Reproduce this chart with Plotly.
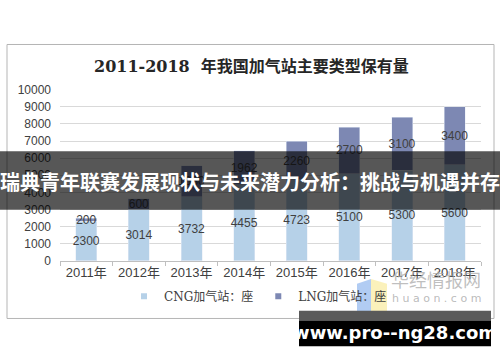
import plotly.graph_objects as go

years = ["2011年", "2012年", "2013年", "2014年", "2015年", "2016年", "2017年", "2018年"]
cng = [2300, 3014, 3732, 4455, 4723, 5100, 5300, 5600]
lng = [200, 600, 1830, 1962, 2260, 2700, 3100, 3400]
y_ticks = [0, 1000, 2000, 3000, 4000, 5000, 6000, 7000, 8000, 9000, 10000]
series_names = ["CNG加气站：座", "LNG加气站：座"]
series_colors = ["#b6d1e8", "#7d88b3"]

W, H = 500, 362
def px(x): return x / W
def py(y): return (H - y) / H

fig = go.Figure()
for vals, name, color in zip([cng, lng], series_names, series_colors):
    fig.add_trace(go.Bar(
        x=years, y=vals, name=name, marker_color=color, showlegend=False,
        text=[str(v) for v in vals], textposition="inside", insidetextanchor="middle",
        textangle=0, constraintext="none",
        textfont=dict(size=12, color="#404040", family="Liberation Sans"),
    ))
for name, color in zip(series_names, series_colors):
    fig.add_trace(go.Scatter(
        x=[None], y=[None], mode="markers", name=name,
        marker=dict(symbol="square", size=6, color=color), showlegend=True,
    ))

shapes = [
    dict(type="rect", xref="paper", yref="paper", x0=px(7), x1=px(494), y0=py(324), y1=py(39),
         line=dict(color="#b5b5b5", width=1), fillcolor="rgba(0,0,0,0)", layer="below"),
    dict(type="path", xref="paper", yref="paper",
         path=f"M {px(357)} {py(288)} L {px(371)} {py(283)} L {px(371)} {py(318)} L {px(357)} {py(322)} Z",
         fillcolor="#a9c6f2", line=dict(width=0), layer="above", opacity=0.9),
    dict(type="path", xref="paper", yref="paper",
         path=f"M {px(371)} {py(283)} L {px(387)} {py(288)} L {px(387)} {py(322)} L {px(371)} {py(318)} Z",
         fillcolor="#fbf0b4", line=dict(width=0), layer="above", opacity=0.9),
    dict(type="rect", xref="paper", yref="paper", x0=0, x1=1, y0=py(211), y1=py(150),
         fillcolor="rgba(0,0,0,0.66)", line=dict(width=0), layer="above"),
    dict(type="rect", xref="paper", yref="paper", x0=px(299), x1=px(491), y0=py(326), y1=py(316),
         fillcolor="#5a5a5a", line=dict(width=0), layer="above"),
    dict(type="rect", xref="paper", yref="paper", x0=px(299), x1=px(491), y0=py(353), y1=py(326),
         fillcolor="#000000", line=dict(width=0), layer="above"),
]

annotations = [
    dict(text="<b>2011-2018  年我国加气站主要类型保有量</b>", xref="paper", yref="paper",
         x=px(251), y=py(62), xanchor="center", yanchor="middle", showarrow=False,
         font=dict(size=16, color="#262626", family="DejaVu Serif, Noto Sans CJK SC")),
    dict(text="华经情报网", xref="paper", yref="paper", x=px(436), y=py(283),
         xanchor="center", yanchor="middle", showarrow=False,
         font=dict(size=18, color="rgba(170,170,170,0.75)", family="Noto Sans CJK SC")),
    dict(text="h u a o n . c o m", xref="paper", yref="paper", x=px(436), y=py(303),
         xanchor="center", yanchor="middle", showarrow=False,
         font=dict(size=11, color="rgba(170,170,170,0.8)", family="DejaVu Sans")),
    dict(text="<b>瑞典青年联赛发展现状与未来潜力分析：挑战与机遇并存</b>", xref="paper", yref="paper",
         x=0.5, y=py(181), xanchor="center", yanchor="middle", showarrow=False,
         font=dict(size=20, color="#ffffff", family="Noto Sans CJK SC")),
    dict(text="<b>www.pro--ng28.com</b>", xref="paper", yref="paper",
         x=px(395), y=py(339), xanchor="center", yanchor="middle", showarrow=False,
         font=dict(size=18, color="#ffffff", family="DejaVu Sans")),
]

fig.update_layout(
    width=W, height=H, margin=dict(l=0, r=0, t=0, b=0),
    paper_bgcolor="#ffffff", plot_bgcolor="#ffffff",
    barmode="stack", bargap=0.6,
    showlegend=True,
    legend=dict(orientation="h", x=px(258), xanchor="center", y=py(301), yanchor="middle",
                traceorder="normal",
                font=dict(size=12, color="#404040", family="DejaVu Serif, Noto Sans CJK SC"),
                itemwidth=30, bgcolor="rgba(0,0,0,0)"),
    xaxis=dict(domain=[px(60), px(481)], showline=True, linecolor="#bfbfbf", linewidth=1,
               ticks="outside", tickson="boundaries", ticklen=4, tickcolor="#bfbfbf",
               tickfont=dict(size=13, color="#404040", family="Liberation Sans, Noto Sans CJK SC"),
               showgrid=False, fixedrange=True),
    yaxis=dict(domain=[py(264), py(86)], range=[0, 10000], tickvals=y_ticks,
               ticktext=[str(v) for v in y_ticks], showgrid=True, gridcolor="#d9d9d9",
               gridwidth=1, zeroline=False, showline=False, ticks="", ticklabelstandoff=8,
               tickfont=dict(size=12, color="#404040", family="Liberation Sans")),
    shapes=shapes, annotations=annotations,
)

fig.write_html("out.html")
